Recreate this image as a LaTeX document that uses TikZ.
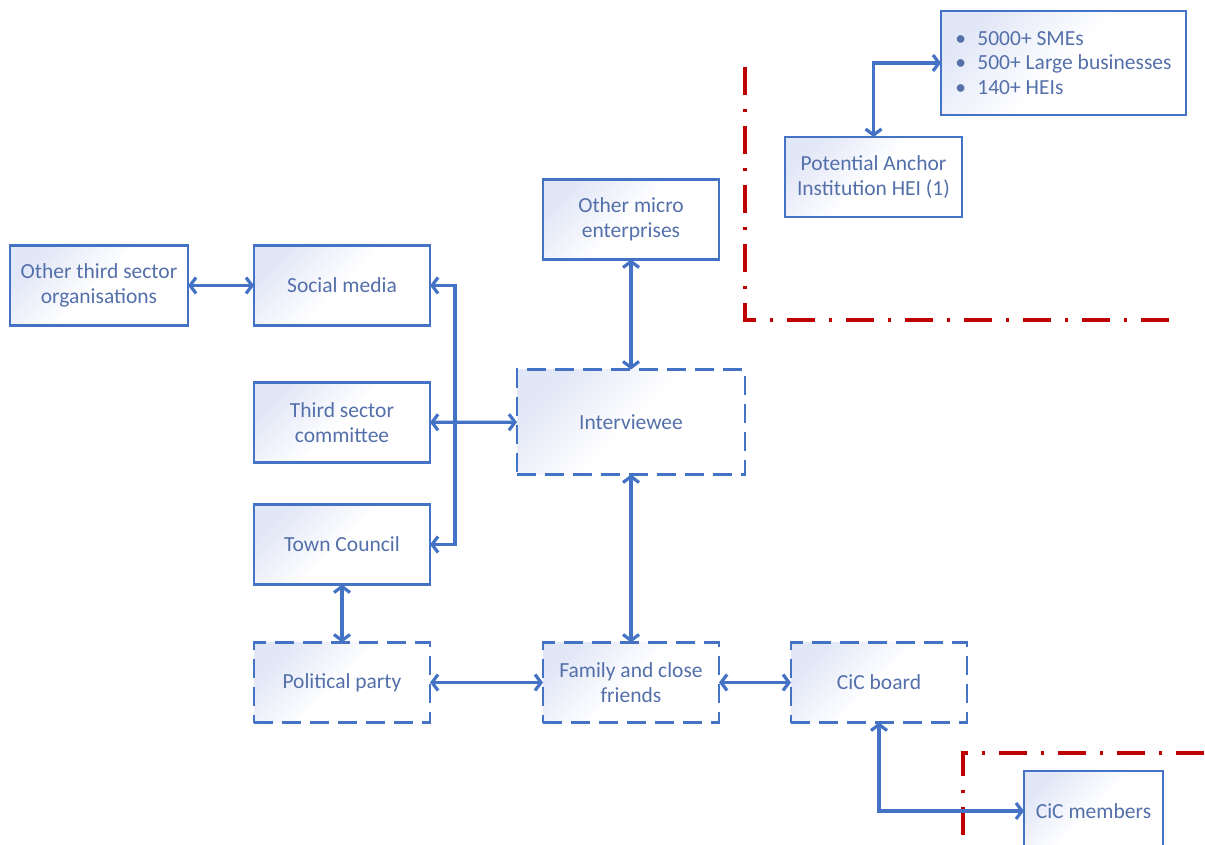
\documentclass[tikz,border=0pt]{standalone}
\usepackage{fontspec}
\setmainfont{Carlito}
\usepackage{tikz}
\usetikzlibrary{shapes,arrows,arrows.meta}
\usetikzlibrary{positioning}
\definecolor{boxblue}{RGB}{68,114,196}
\definecolor{textblue}{RGB}{84,112,170}
\definecolor{shadeblue}{RGB}{226,231,247}
\definecolor{bordred}{RGB}{192,0,0}
\tikzstyle{block} = [rectangle, draw=boxblue, line width=2.2pt, top color=shadeblue,
    bottom color=white, middle color=white, shading angle=45, text=textblue, align=center,
    font=\fontsize{21.5}{25}\selectfont, minimum width=176pt, minimum height=80pt,
    inner sep=2pt, outer sep=0pt]
\tikzstyle{dashblock} = [block, dash pattern=on 19pt off 9pt]
\tikzstyle{line} = [draw=boxblue, line width=3.2pt,
    {Straight Barb[length=6pt,width=16pt]}-{Straight Barb[length=6pt,width=16pt]}]
\tikzstyle{redline} = [draw=bordred, line width=3.4pt, dash pattern=on 28pt off 14pt on 3pt off 14pt]

\begin{document}
\begin{tikzpicture}[x=1pt,y=-1pt]
    \clip (0,0) rectangle (1205,845);
    % Place nodes
    \node [block] (social) at (342,285.5) {Social media};
    \node [block, minimum width=178pt, left=66pt of social] (other) {Other third sector\\organisations};
    \node [block, below=57pt of social] (committee) {Third sector\\committee};
    \node [block, below=42pt of committee] (council) {Town Council};
    \node [dashblock, below=58pt of council] (party) {Political party};
    \node [dashblock, right=113pt of party] (family) {Family and close\\friends};
    \node [dashblock, right=72pt of family] (board) {CiC board};
    \node [dashblock, minimum width=228pt, minimum height=105pt, above=168pt of family] (interviewee) {Interviewee};
    \node [block, above=110pt of interviewee] (micro) {Other micro\\enterprises};
    \node [block, minimum width=139pt] (members) at (1093.5,811) {CiC members};
    \node [block, minimum width=177pt] (anchor) at (873.5,177) {Potential Anchor\\Institution HEI (1)};
    \node [block, minimum width=245pt, minimum height=104pt, align=left,
        font=\fontsize{21.5}{24.5}\selectfont] (sectors) at (1063.5,63)
        {\makebox[22pt][l]{\textbullet}5000+ SMEs\\
         \makebox[22pt][l]{\textbullet}500+ Large businesses\\
         \makebox[22pt][l]{\textbullet}140+ HEIs};
    % Boundaries
    \path [redline] (745,67) -- (745,320) -- (1175,320);
    \path [redline] (963,835) -- (963,753) -- (1205,753);
    % Draw edges
    \path [line] (other) -- (social);
    \path [line] (social.east) -- ++(25,0) |- (council.east);
    \path [line] (committee) -- (interviewee);
    \path [line] (micro) -- (interviewee);
    \path [line] (interviewee) -- (family);
    \path [line] (council) -- (party);
    \path [line] (party) -- (family);
    \path [line] (family) -- (board);
    \path [line] (board.south) |- (members.west);
    \path [line] (anchor.north) |- (sectors.west);
\end{tikzpicture}
\end{document}
